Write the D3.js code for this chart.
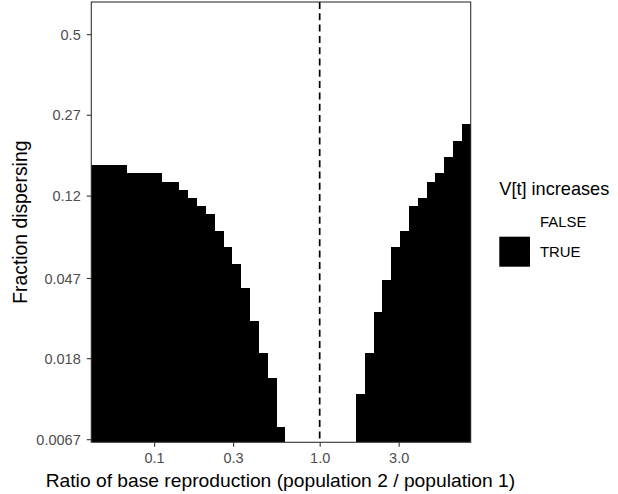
<!DOCTYPE html>
<html>
<head>
<meta charset="utf-8">
<script src="https://cdn.jsdelivr.net/npm/d3@7"></script>
<style>
  html, body { margin: 0; padding: 0; background: #ffffff; }
  svg { display: block; font-family: "Liberation Sans", Arial, sans-serif; }
</style>
</head>
<body>
<div id="chart"></div>
<script>
// Column centres of the ratio grid (population 2 / population 1)
const ratio = [
  0.0444, 0.0502, 0.0568, 0.0642, 0.0725, 0.0820, 0.0927, 0.105, 0.119, 0.134,
  0.151, 0.171, 0.194, 0.219, 0.247, 0.280, 0.316, 0.357, 0.404, 0.457,
  0.516, 0.584, 0.660, 0.746, 0.844, 0.954, 1.08, 1.22, 1.38, 1.56,
  1.76, 1.99, 2.25, 2.55, 2.88, 3.25, 3.68, 4.16, 4.70, 5.31,
  6.01, 6.79, 7.68
];
// Largest fraction dispersing for which V[t] increases, per column (null: never)
const trueUpTo = [
  0.1655, 0.1655, 0.1655, 0.1655, 0.1523, 0.1523, 0.1523, 0.1523, 0.1396, 0.1396,
  0.1280, 0.1168, 0.1069, 0.0977, 0.0813, 0.0672, 0.0557, 0.0416, 0.0283, 0.0191,
  0.0141, 0.00781, null, null, null, null, null, null, null, null,
  0.01165, 0.0191, 0.0313, 0.0459, 0.0672, 0.0813, 0.1069, 0.1168, 0.1396, 0.1523,
  0.1801, 0.2118, 0.2475
];
// Range of fraction dispersing covered by the grid
const fractionLimits = [0.00645, 0.598];

const xTicks = [0.1, 0.3, 1, 3];
const xTickLabels = ["0.1", "0.3", "1.0", "3.0"];
const yTicks = [0.0067, 0.018, 0.047, 0.12, 0.27, 0.5];
const yTickLabels = ["0.0067", "0.018", "0.047", "0.12", "0.27", "0.5"];
const legendLevels = ["FALSE", "TRUE"];
const neutralRatio = 1;

const W = 618, H = 494;
const panel = { left: 91.3, right: 470.7, top: 2, bottom: 442.3 };

const svg = d3.select("#chart").append("svg")
  .attr("width", W).attr("height", H);

// Tile edges in ratio: geometric midpoints between neighbouring centres
const edges = [];
for (let i = 0; i <= ratio.length; i++) {
  if (i === 0) edges.push(ratio[0] * ratio[0] / Math.sqrt(ratio[0] * ratio[1]));
  else if (i === ratio.length) {
    const n = ratio.length - 1;
    edges.push(ratio[n] * ratio[n] / Math.sqrt(ratio[n] * ratio[n - 1]));
  } else edges.push(Math.sqrt(ratio[i - 1] * ratio[i]));
}

const x = d3.scaleLog()
  .domain([edges[0], edges[edges.length - 1]])
  .range([panel.left, panel.right]);

const logit = p => Math.log(p / (1 - p));
const yLogit = d3.scaleLinear()
  .domain(fractionLimits.map(logit))
  .range([panel.bottom, panel.top]);
const y = p => yLogit(logit(p));

const fill = d3.scaleOrdinal().domain(legendLevels).range(["#ffffff", "#000000"]);

// Scale a text element's font so that it spans the given width
function fitWidth(sel, width) {
  const node = sel.node();
  const fs = parseFloat(sel.style("font-size"));
  const len = node.getComputedTextLength();
  if (len > 0) sel.style("font-size", (fs * width / len).toFixed(2) + "px");
  return sel;
}

// Tiles where V[t] increases
const cols = ratio.map((r, i) => ({ r, i, top: trueUpTo[i] })).filter(d => d.top !== null);
svg.append("g").attr("class", "tiles")
  .selectAll("rect").data(cols).join("rect")
  .attr("x", d => x(edges[d.i]))
  .attr("width", d => x(edges[d.i + 1]) - x(edges[d.i]))
  .attr("y", d => y(d.top))
  .attr("height", d => y(fractionLimits[0]) - y(d.top))
  .attr("fill", fill("TRUE"))
  .attr("shape-rendering", "crispEdges");

// Reference line at equal base reproduction
svg.append("line")
  .attr("x1", x(neutralRatio)).attr("x2", x(neutralRatio))
  .attr("y1", panel.top).attr("y2", panel.bottom)
  .attr("stroke", "#000").attr("stroke-width", 1.7)
  .attr("stroke-dasharray", "7,4.3");

// Panel border
svg.append("rect")
  .attr("x", panel.left).attr("y", panel.top)
  .attr("width", panel.right - panel.left).attr("height", panel.bottom - panel.top)
  .attr("fill", "none").attr("stroke", "#333333").attr("stroke-width", 1.1);

// Axes
const xAxis = svg.append("g")
  .attr("transform", `translate(0,${panel.bottom})`)
  .call(d3.axisBottom(x).tickValues(xTicks).tickFormat((d, i) => xTickLabels[i]).tickSize(4.5).tickSizeOuter(0));
const yAxis = svg.append("g")
  .attr("transform", `translate(${panel.left},0)`)
  .call(d3.axisLeft(yLogit).tickValues(yTicks.map(logit)).tickFormat((d, i) => yTickLabels[i]).tickSize(4.5).tickSizeOuter(0));

[xAxis, yAxis].forEach(g => {
  g.select(".domain").remove();
  g.selectAll(".tick line").attr("stroke", "#333333").attr("stroke-width", 1.1);
  g.selectAll(".tick text")
    .attr("fill", "#4d4d4d")
    .style("font-size", "14.5px")
    .style("font-family", "'Liberation Sans', Arial, sans-serif");
});
xAxis.selectAll(".tick text").attr("y", 21).attr("dy", "0");
yAxis.selectAll(".tick text").attr("x", -10.6).attr("dy", "0.36em");

// Axis titles
const xTitle = svg.append("text")
  .attr("x", 280.4).attr("y", 486.7)
  .attr("text-anchor", "middle")
  .style("font-size", "17.8px").attr("fill", "#000")
  .text("Ratio of base reproduction (population 2 / population 1)");
fitWidth(xTitle, 469);

const yTitle = svg.append("text")
  .attr("transform", `translate(27.4,${(panel.top + panel.bottom) / 2}) rotate(-90)`)
  .attr("text-anchor", "middle")
  .style("font-size", "17.8px").attr("fill", "#000")
  .text("Fraction dispersing");
fitWidth(yTitle, 163);

// Legend
const legend = svg.append("g").attr("transform", "translate(499.3,0)");
const legendTitle = legend.append("text")
  .attr("x", 0).attr("y", 195)
  .style("font-size", "17.8px").attr("fill", "#000")
  .text("V[t] increases");
fitWidth(legendTitle, 110);
const keys = legend.selectAll("g.key").data(legendLevels).join("g")
  .attr("class", "key")
  .attr("transform", (d, i) => `translate(0,${206.7 + i * 30})`);
keys.append("rect")
  .attr("width", 30.7).attr("height", 30)
  .attr("fill", d => fill(d));
keys.append("text")
  .attr("x", 40.7).attr("y", 15).attr("dy", "0.36em")
  .style("font-size", "14.9px").attr("fill", "#000")
  .text(d => d);
</script>
</body>
</html>
